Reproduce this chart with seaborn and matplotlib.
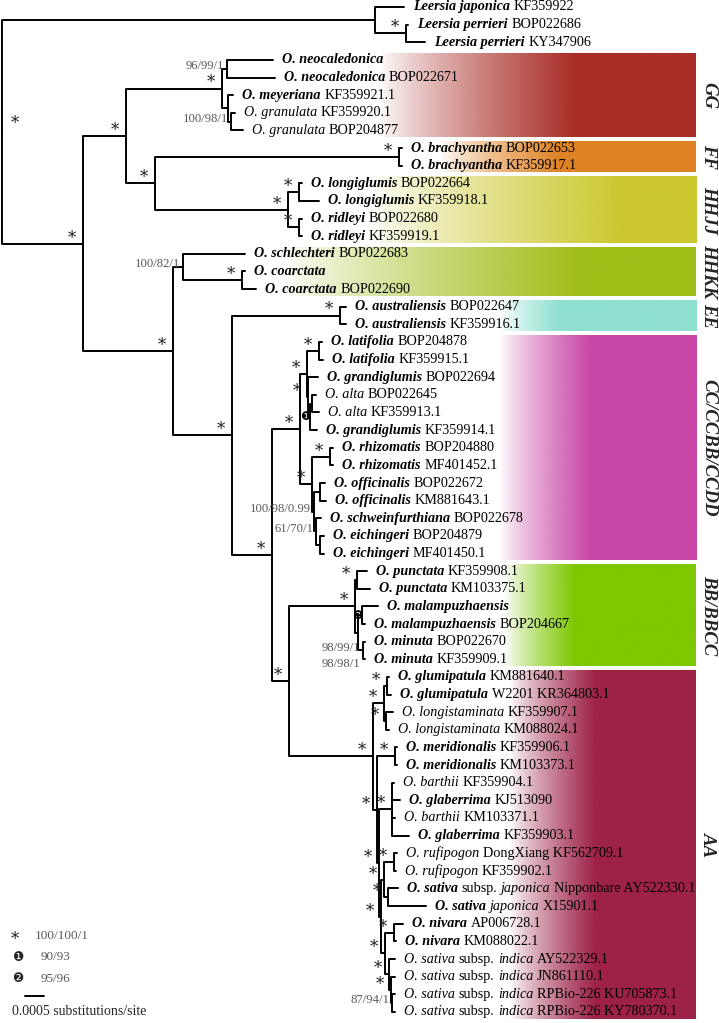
import re
import numpy as np
import pandas as pd
import matplotlib
matplotlib.use("Agg")
import matplotlib.pyplot as plt
import seaborn as sns
from matplotlib.colors import to_rgb

# ---------------- data ----------------
# tip labels: **bold italic**, *italic*, plain
tip_labels = [
    "**Leersia japonica** KF359922",
    "**Leersia perrieri** BOP022686",
    "**Leersia perrieri** KY347906",
    "**O. neocaledonica**",
    "**O. neocaledonica** BOP022671",
    "**O. meyeriana** KF359921.1",
    "*O. granulata* KF359920.1",
    "*O. granulata* BOP204877",
    "**O. brachyantha** BOP022653",
    "**O. brachyantha** KF359917.1",
    "**O. longiglumis** BOP022664",
    "**O. longiglumis** KF359918.1",
    "**O. ridleyi** BOP022680",
    "**O. ridleyi** KF359919.1",
    "**O. schlechteri** BOP022683",
    "**O. coarctata**",
    "**O. coarctata** BOP022690",
    "**O. australiensis** BOP022647",
    "**O. australiensis** KF359916.1",
    "**O. latifolia** BOP204878",
    "**O. latifolia** KF359915.1",
    "**O. grandiglumis** BOP022694",
    "*O. alta* BOP022645",
    "*O. alta* KF359913.1",
    "**O. grandiglumis** KF359914.1",
    "**O. rhizomatis** BOP204880",
    "**O. rhizomatis** MF401452.1",
    "**O. officinalis** BOP022672",
    "**O. officinalis** KM881643.1",
    "**O. schweinfurthiana** BOP022678",
    "**O. eichingeri** BOP204879",
    "**O. eichingeri** MF401450.1",
    "**O. punctata** KF359908.1",
    "**O. punctata** KM103375.1",
    "**O. malampuzhaensis**",
    "**O. malampuzhaensis** BOP204667",
    "**O. minuta** BOP022670",
    "**O. minuta** KF359909.1",
    "**O. glumipatula** KM881640.1",
    "**O. glumipatula** W2201 KR364803.1",
    "*O. longistaminata* KF359907.1",
    "*O. longistaminata* KM088024.1",
    "**O. meridionalis** KF359906.1",
    "**O. meridionalis** KM103373.1",
    "*O. barthii* KF359904.1",
    "**O. glaberrima** KJ513090",
    "*O. barthii* KM103371.1",
    "**O. glaberrima** KF359903.1",
    "*O. rufipogon* DongXiang KF562709.1",
    "*O. rufipogon* KF359902.1",
    "**O. sativa** subsp. *japonica* Nipponbare AY522330.1",
    "**O. sativa** *japonica* X15901.1",
    "**O. nivara** AP006728.1",
    "**O. nivara** KM088022.1",
    "*O. sativa* subsp. *indica* AY522329.1",
    "*O. sativa* subsp. *indica* JN861110.1",
    "*O. sativa* subsp. *indica* RPBio-226 KU705873.1",
    "*O. sativa* subsp. *indica* RPBio-226 KY780370.1",
]
tip_parent = ["Leer", "Lper", "Lper", "Neo", "Neo", "MG", "Gran", "Gran", "Bra", "Bra",
              "Lon", "Lon", "Rid", "Rid", "HK", "Coa", "Coa", "EE", "EE", "Lat", "Lat",
              "H", "Alt", "Alt", "H2", "Rhi", "Rhi", "Off", "Off", "J", "Eic", "Eic",
              "Pun", "Pun", "Mal", "Mal", "Mi", "Mi", "Glu", "Glu", "Lst", "Lst",
              "Mer", "Mer", "BG", "BG", "BG", "BG", "Ruf", "Ruf", "Jap", "Jap",
              "Niv", "Niv", "Ind", "Ind2", "Ind3", "Ind3"]
# distance from root, in 1e-4 substitutions/site
tip_depth = [105.79, 106.84, 111.32, 71.32, 71.84, 60.79, 61.32, 63.42, 105.26, 105.26,
             78.95, 83.42, 78.95, 78.95, 63.95, 63.95, 66.84, 90.53, 90.53, 84.21, 84.47,
             83.16, 82.63, 83.42, 82.89, 87.11, 87.11, 85.00, 85.26, 83.95, 84.74, 84.74,
             96.05, 96.84, 98.95, 95.53, 95.53, 95.53, 101.84, 102.37, 102.89, 101.84,
             103.95, 103.95, 103.16, 104.74, 103.42, 107.11, 103.95, 103.68, 104.21, 111.58,
             105.53, 103.68, 103.42, 103.42, 103.42, 103.42]

node_name = ["root", "Leer", "Lper", "A", "B", "GG", "Neo", "MG", "Gran", "FFH",
             "Bra", "HJ", "Lon", "Rid", "C", "HK", "Coa", "D", "EE", "E",
             "F", "G", "Lat", "H", "H2", "Alt", "I", "Rhi", "K", "Off",
             "J", "Eic", "X", "BBn", "Pun", "M", "Mal", "Mi", "AAn", "AA1",
             "Glu", "Lst", "AA2", "Mer", "AA3", "BG", "AA4", "AA5", "Ruf", "Jap",
             "AA6", "Niv", "Ind", "Ind2", "Ind3"]
node_parent = [None, "root", "Leer", "root", "A", "B", "GG", "GG", "MG", "B",
               "FFH", "FFH", "HJ", "HJ", "A", "C", "HK", "C", "D", "D",
               "E", "F", "G", "G", "H", "H2", "F", "I", "I", "K",
               "K", "J", "E", "X", "BBn", "BBn", "M", "M", "X", "AAn",
               "AA1", "AA1", "AAn", "AA2", "AA2", "AA3", "AA3", "AA4", "AA5", "AA5",
               "AA4", "AA6", "AA6", "Ind", "Ind2"]
node_depth = [0.0, 98.16, 106.32, 21.32, 32.63, 57.89, 59.21, 59.47, 60.26, 40.26,
              104.47, 75.26, 78.16, 78.16, 45.00, 47.63, 63.16, 60.53, 88.95, 71.05,
              78.42, 80.26, 83.42, 80.53, 81.05, 81.58, 81.58, 86.32, 82.11, 83.68,
              82.63, 83.68, 75.53, 92.89, 93.42, 93.68, 94.74, 95.00, 97.63, 100.53,
              101.32, 101.05, 98.68, 103.42, 99.21, 102.63, 99.74, 100.53, 103.16, 101.58,
              100.79, 103.16, 101.84, 102.37, 102.63]
node_support = ["*", "", "*", "*", "*", "*", "96/99/1", "", "100/98/1", "*",
                "*", "*", "*", "*", "*", "100/82/1", "*", "*", "*", "*",
                "*", "*", "*", "*", "\u2776", "", "*", "*", "100/98/0.99", "",
                "61/70/1", "", "*", "*", "*", "", "\u2777", "98/99/1\n98/98/1", "*", "*",
                "*", "*", "*", "*", "*", "*", "*", "*", "*", "*",
                "*", "*", "*", "*", "87/94/1"]

clade_names = ["GG", "FF", "HHJJ", "HHKK", "EE", "CC/CCBB/CCDD", "BB/BBCC", "AA"]
clade_first = [3, 8, 10, 14, 17, 19, 32, 38]
clade_last = [7, 9, 13, 16, 18, 31, 37, 57]
clade_colors = ["#A82D26", "#DE8223", "#CCC830", "#A0BE19", "#8EE0D0", "#C846A5", "#7DC800", "#9E2248"]
clade_fade_from = [99.5, 115.3, 96.8, 74.5, 131.0, 131.0, 132.4, 133.7]
clade_fade_to = [150.8, 146.8, 162.6, 152.1, 146.8, 154.7, 150.8, 156.0]

legend_symbols = ["*", "\u2776", "\u2777"]
legend_values = ["100/100/1", "90/93", "95/96"]
scale_length = 5.0          # = 0.0005 substitutions/site
scale_text = "0.0005 substitutions/site"

# ---------------- style ----------------
sns.set_style("white")
SERIF = ["Liberation Serif", "DejaVu Sans"]
plt.rcParams["font.family"] = SERIF
TIP_FS = 10.2
SUP_FS = 9.2
SUP_COLOR = "#5a5a5a"
BOX_RIGHT = 182.6
LABEL_X = 186.0

fig = plt.figure(figsize=(7.19, 10.23), dpi=100)
ax = fig.add_axes([0, 0, 1, 1])

# ---------------- tree geometry ----------------
xpos, ypos = {}, {}
children = {n: [] for n in node_name}
parent_of = {}
for i, (p, d) in enumerate(zip(tip_parent, tip_depth)):
    key = f"tip{i}"
    xpos[key] = d
    ypos[key] = float(i)
    children[p].append(key)
    parent_of[key] = p
for n, p, d in zip(node_name, node_parent, node_depth):
    xpos[n] = d
    if p is not None:
        children[p].append(n)
        parent_of[n] = p


def set_y(n):
    ys = [ypos[c] if c.startswith("tip") else set_y(c) for c in children[n]]
    ypos[n] = (min(ys) + max(ys)) / 2
    return ypos[n]


set_y("root")

rows = []
for k, (c, p) in enumerate(parent_of.items()):
    rows += [(k, xpos[p], ypos[p]), (k, xpos[p], ypos[c]), (k, xpos[c], ypos[c])]
edges = pd.DataFrame(rows, columns=["edge", "x", "y"])
sns.lineplot(data=edges, x="x", y="y", units="edge", estimator=None, sort=False,
             color="black", linewidth=1.4, legend=False, ax=ax, zorder=3)

# ---------------- clade boxes ----------------
for name, f, l, col, a0, a1 in zip(clade_names, clade_first, clade_last, clade_colors,
                                   clade_fade_from, clade_fade_to):
    xs = np.linspace(a0, BOX_RIGHT, 400)
    alpha = np.clip((xs - a0) / (a1 - a0), 0, 1) ** 0.8
    img = np.ones((1, len(xs), 4))
    img[..., :3] = np.array(to_rgb(col))
    img[..., 3] = alpha
    top, bot = f - 0.37, l + 0.38
    ax.imshow(img, extent=[a0, BOX_RIGHT, bot, top], aspect="auto",
              interpolation="bilinear", zorder=1)
    ax.text(LABEL_X, (top + bot) / 2, name, rotation=-90, ha="center", va="center",
            fontsize=13.5, fontweight="bold", fontstyle="italic", family=SERIF)


# ---------------- tip labels ----------------
def parse(s):
    segs = []
    for bi, it, pl in re.findall(r"\*\*(.+?)\*\*|\*(.+?)\*|([^*]+)", s):
        if bi:
            segs.append((bi, "bi"))
        elif it:
            segs.append((it, "i"))
        else:
            segs.append((pl, "r"))
    out = []
    pending_space = False
    for txt, st in segs:
        if txt.startswith(" "):
            pending_space = True
        t = txt.strip()
        if t:
            out.append((t, st, pending_space))
        pending_space = txt.endswith(" ")
    return out


for i, lab in enumerate(tip_labels):
    key = f"tip{i}"
    prev = None
    for txt, st, sp in parse(lab):
        kw = dict(fontsize=TIP_FS, color="black", family=SERIF, zorder=4)
        if st == "bi":
            kw.update(fontweight="bold", fontstyle="italic")
        elif st == "i":
            kw.update(fontstyle="italic")
        if prev is None:
            prev = ax.annotate(txt, xy=(xpos[key], ypos[key]), xytext=(6.5, 0),
                               textcoords="offset points", ha="left", va="center", **kw)
        else:
            prev = ax.annotate(txt, xy=(1, 0), xycoords=prev,
                               xytext=(2.6 if sp else 0.3, 0), textcoords="offset points",
                               ha="left", va="bottom", **kw)

# ---------------- support values ----------------
for n, s in zip(node_name, node_support):
    if not s:
        continue
    x, y = xpos[n], ypos[n]
    if s == "*":
        off = (9, 6) if n == "root" else (-8, 4)
        ax.annotate("*", xy=(x, y), xytext=off, textcoords="offset points",
                    ha="center", va="center", fontsize=12, color="#222222",
                    family=["DejaVu Serif"], zorder=5)
    elif s in ("\u2776", "\u2777"):
        ax.annotate(s, xy=(x, y), xytext=(-3, 0), textcoords="offset points",
                    ha="center", va="center", fontsize=8.5, color="black",
                    family=["DejaVu Sans"], zorder=5)
    else:
        for k, line in enumerate(s.split("\n")):
            ax.annotate(line, xy=(x, y), xytext=(-2, 2 - 11.5 * k), textcoords="offset points",
                        ha="right", va="center", fontsize=SUP_FS, color=SUP_COLOR,
                        family=SERIF, zorder=5)

# ---------------- legend & scale ----------------
for k, (sym, val) in enumerate(zip(legend_symbols, legend_values)):
    yf = 0.0855 - 0.0212 * k
    if sym == "*":
        ax.text(0.021, yf - 0.004, sym, transform=ax.transAxes, ha="center", va="center",
                fontsize=12, family=["DejaVu Serif"], color="#222222")
    else:
        ax.text(0.024, yf, sym, transform=ax.transAxes, ha="center", va="center",
                fontsize=9, family=["DejaVu Sans"])
    ax.text(0.049 if k == 0 else 0.056, yf, val, transform=ax.transAxes, ha="left",
            va="center", fontsize=9.5, color=SUP_COLOR, family=SERIF)

sb_x0 = 6.05
sb_y = 56.1
ax.plot([sb_x0, sb_x0 + scale_length], [sb_y, sb_y], color="black", lw=1.4)
ax.text(0.016, 0.0115, scale_text, transform=ax.transAxes, ha="left", va="center",
        fontsize=10, family=SERIF)

ax.set_xlim(-0.526, 188.68)
ax.set_ylim(57.63, -0.397)
ax.set_aspect("auto")
ax.axis("off")
fig.savefig("out.png", dpi=100)
